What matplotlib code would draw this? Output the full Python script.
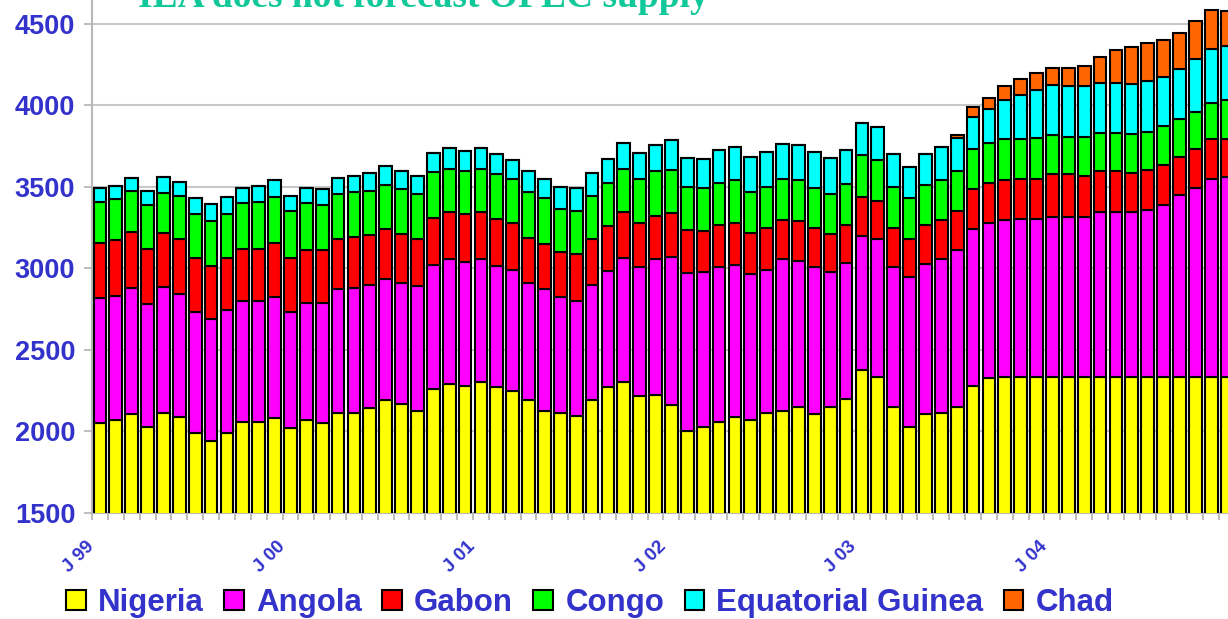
import numpy as np
import matplotlib
matplotlib.use("Agg")
import matplotlib.pyplot as plt
from matplotlib.patches import Patch

# --- Data: West African crude supply, kb/d, monthly Jan 1999 - Dec 2004 ----

nigeria = [2050, 2070, 2105, 2025, 2115, 2090, 1990, 1940, 1990, 2055, 2055, 2085,
           2020, 2070, 2050, 2115, 2115, 2145, 2195, 2170, 2125, 2260, 2290, 2280,
           2305, 2270, 2250, 2195, 2125, 2115, 2095, 2195, 2270, 2305, 2215, 2225,
           2160, 2005, 2025, 2060, 2090, 2070, 2115, 2125, 2150, 2105, 2150, 2200,
           2375, 2335, 2150, 2025, 2105, 2115, 2150, 2280, 2325, 2335, 2335, 2335,
           2335, 2335, 2335, 2335, 2335, 2335, 2335, 2335, 2335, 2335, 2335, 2335]
angola = [765, 760, 775, 755, 770, 755, 745, 750, 755, 745, 745, 740,
          715, 720, 740, 755, 765, 750, 740, 740, 765, 760, 765, 760,
          750, 745, 740, 715, 750, 710, 705, 705, 715, 760, 790, 830,
          910, 965, 950, 945, 930, 895, 875, 930, 895, 900, 830, 830,
          825, 845, 860, 920, 920, 940, 960, 960, 955, 960, 970, 970,
          980, 980, 980, 1010, 1010, 1010, 1020, 1055, 1115, 1160, 1215, 1225]
gabon = [340, 345, 345, 340, 330, 335, 330, 325, 320, 320, 320, 330,
         325, 320, 320, 310, 310, 310, 305, 300, 290, 290, 290, 290,
         290, 290, 290, 275, 275, 275, 285, 280, 275, 280, 275, 265,
         270, 265, 255, 260, 255, 250, 255, 240, 245, 240, 230, 235,
         235, 230, 235, 235, 240, 240, 240, 245, 240, 245, 245, 245,
         260, 260, 250, 250, 250, 240, 250, 245, 230, 235, 245, 235]
congo = [250, 250, 250, 270, 245, 265, 265, 275, 265, 280, 285, 285,
         290, 290, 275, 275, 275, 270, 270, 275, 275, 280, 265, 265,
         265, 270, 265, 280, 280, 265, 265, 265, 265, 265, 265, 275,
         265, 265, 265, 260, 265, 255, 255, 255, 250, 245, 245, 250,
         260, 255, 255, 250, 245, 245, 245, 245, 250, 250, 245, 250,
         240, 230, 240, 235, 235, 240, 230, 235, 235, 230, 220, 235]
eq_guinea = [90, 80, 80, 85, 100, 85, 100, 105, 110, 95, 100, 100,
             95, 95, 100, 100, 100, 110, 115, 110, 110, 115, 125, 125,
             125, 125, 120, 130, 120, 135, 145, 140, 145, 155, 160, 160,
             180, 175, 175, 200, 205, 215, 210, 210, 215, 220, 220, 210,
             195, 200, 200, 190, 190, 205, 205, 200, 205, 240, 265, 295,
             310, 310, 310, 305, 305, 305, 310, 305, 305, 320, 330, 330]
chad = [0] * 54 + [15, 60, 70, 90, 100, 105,
                   100, 110, 125, 160, 200, 225, 235, 225, 225, 235, 240, 220]

names = ["Nigeria", "Angola", "Gabon", "Congo", "Equatorial Guinea", "Chad"]
colors = ["#FFFF00", "#FF00FF", "#FF0000", "#00FF00", "#00FFFF", "#FF6600"]
year_labels = ["J 99", "J 00", "J 01", "J 02", "J 03", "J 04"]

series = [nigeria, angola, gabon, congo, eq_guinea, chad]

# --- Figure ------------------------------------------------------------------

blue = "#3333CC"
fig = plt.figure(figsize=(12.28, 6.19), dpi=100)
ax = fig.add_axes([92 / 1228, 106 / 619, 1143 / 1228, 571 / 619])

x = np.arange(len(nigeria))
bottom = np.zeros(len(x))
for vals, col in zip(series, colors):
    vals = np.array(vals, dtype=float)
    ax.bar(x, vals, bottom=bottom, width=0.8, color=col,
           edgecolor="black", linewidth=1.5, zorder=3)
    bottom = bottom + vals

ax.set_xlim(-0.5, len(x) - 0.5)
ax.set_ylim(1500, 5000)
ax.set_yticks([1500, 2000, 2500, 3000, 3500, 4000, 4500])
ax.yaxis.grid(True, color="#C8C8C8", linewidth=1.5, zorder=0)

ticks = np.arange(-0.5, len(x), 1)
ax.set_xticks(ticks)
labels = [""] * len(ticks)
for k, lab in enumerate(year_labels):
    labels[12 * k] = lab
ax.set_xticklabels(labels, rotation=45, ha="right", va="center",
                   rotation_mode="anchor")

for s in ["top", "right"]:
    ax.spines[s].set_visible(False)
for s in ["left", "bottom"]:
    ax.spines[s].set_color("#B8B8B8")
    ax.spines[s].set_linewidth(1.5)

ax.tick_params(axis="x", length=5, width=1.3, color="#B8B8B8", pad=17,
               labelsize=13.5, labelcolor=blue)
ax.tick_params(axis="y", length=6, width=1.3, color="#B8B8B8", pad=6,
               labelsize=19.5, labelcolor=blue)
for t in ax.get_xticklabels() + ax.get_yticklabels():
    t.set_fontfamily("Liberation Sans")
    t.set_fontweight("bold")

handles = [Patch(facecolor=c, edgecolor="black", linewidth=1.5) for c in colors]
fig.legend(handles, names, loc="center", bbox_to_anchor=(590 / 1228, 1 - 603 / 619),
           ncol=6, frameon=False, handlelength=0.62, handleheight=0.62,
           handletextpad=0.4, columnspacing=0.65, borderpad=0,
           prop={"family": "Liberation Sans", "weight": "bold", "size": 22.5},
           labelcolor=blue)

fig.text(138 / 1228, 1 - 7 / 619, "IEA does not forecast OPEC supply",
         family="Liberation Serif", weight="bold", size=27, color="#10C89A",
         ha="left", va="baseline")

fig.savefig("out.png", dpi=100)
